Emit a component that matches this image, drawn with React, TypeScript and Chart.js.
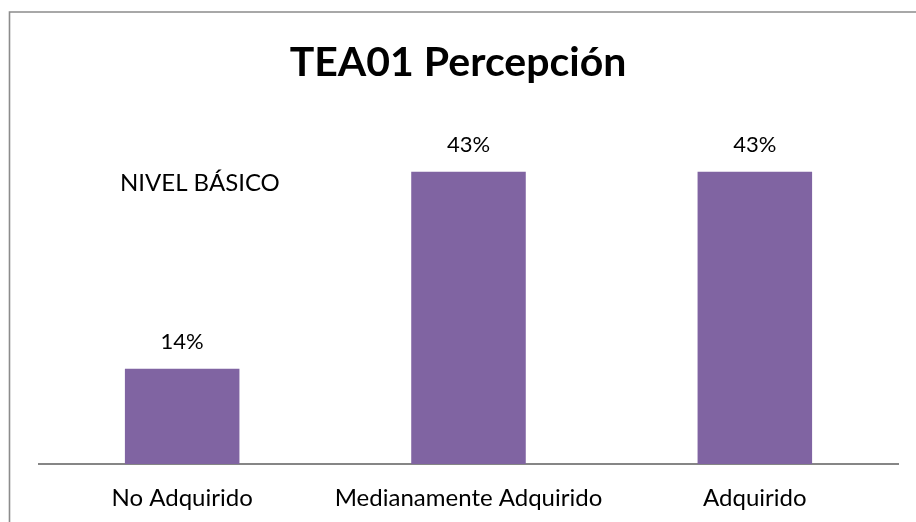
import React, { useEffect, useRef } from "react";
import { Chart, registerables } from "chart.js";

Chart.register(...registerables);

const categories = ["No Adquirido", "Medianamente Adquirido", "Adquirido"];
const values = [14, 43, 43];
const valueLabels = ["14%", "43%", "43%"];
const titleText = "TEA01 Percepción";
const noteText = "NIVEL BÁSICO";

const FONT = "Lato, 'Open Sans', sans-serif";

const framePlugin = {
  id: "frame",
  beforeDraw(chart: any) {
    const ctx = chart.ctx;
    ctx.save();
    ctx.fillStyle = "#ffffff";
    ctx.fillRect(0, 0, chart.width, chart.height);
    ctx.strokeStyle = "#8c8c8c";
    ctx.lineWidth = 1.6;
    ctx.beginPath();
    ctx.moveTo(9.5, chart.height);
    ctx.lineTo(9.5, 12);
    ctx.lineTo(chart.width, 12);
    ctx.stroke();
    ctx.restore();
  },
};

const labelsPlugin = {
  id: "valueLabels",
  afterDatasetsDraw(chart: any) {
    const ctx = chart.ctx;
    const meta = chart.getDatasetMeta(0);
    ctx.save();
    ctx.fillStyle = "#000000";
    ctx.font = `22px ${FONT}`;
    ctx.textAlign = "center";
    ctx.textBaseline = "alphabetic";
    meta.data.forEach((bar: any, i: number) => {
      ctx.fillText(valueLabels[i], bar.x, bar.y - 20);
    });
    ctx.font = `24px ${FONT}`;
    ctx.textAlign = "left";
    ctx.fillText(noteText, 120, 191);
    ctx.restore();
  },
};

export default function App() {
  const ref = useRef<HTMLCanvasElement | null>(null);
  useEffect(() => {
    if (!ref.current) return;
    const chart = new Chart(ref.current, {
      type: "bar",
      data: {
        labels: categories,
        datasets: [
          {
            data: values,
            backgroundColor: "#8064A2",
            borderWidth: 0,
            categoryPercentage: 1,
            barPercentage: 0.4,
          },
        ],
      },
      options: {
        responsive: false,
        animation: false,
        maintainAspectRatio: false,
        layout: { padding: 0 },
        plugins: {
          legend: { display: false },
          tooltip: { enabled: false },
          title: {
            display: true,
            text: titleText,
            color: "#000000",
            font: { family: FONT, size: 41, weight: "bold", lineHeight: 1.2 },
            padding: { top: 38, bottom: 37 },
          },
        },
        scales: {
          x: {
            grid: { display: false, drawTicks: false },
            border: { display: true, color: "#868686", width: 2 },
            ticks: {
              color: "#000000",
              font: { family: FONT, size: 24 },
              padding: 20,
              maxRotation: 0,
              autoSkip: false,
            },
            afterFit: (scale: any) => {
              scale.height = 58;
            },
          },
          y: {
            display: true,
            position: "left",
            min: 0,
            max: 50,
            grid: { display: false, drawTicks: false },
            border: { display: false },
            ticks: { display: false },
            afterFit: (scale: any) => {
              scale.width = 39;
            },
          },
          yRight: {
            type: "linear",
            display: true,
            position: "right",
            min: 0,
            max: 50,
            grid: { display: false, drawTicks: false },
            border: { display: false },
            ticks: { display: false },
            afterFit: (scale: any) => {
              scale.width = 18;
            },
          },
        },
      },
      plugins: [framePlugin, labelsPlugin],
    });
    return () => chart.destroy();
  }, []);
  return (
    <div style={{ position: "fixed", left: 0, top: 0, width: 916, height: 522 }}>
      <canvas ref={ref} width={916} height={522} style={{ display: "block" }} />
    </div>
  );
}
